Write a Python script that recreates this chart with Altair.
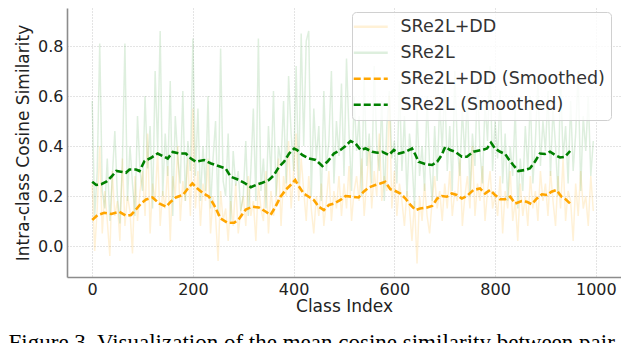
import altair as alt
import pandas as pd

# ---------------- data ----------------
raw_idx = list(range(0, 1000, 5))

# SRe2L raw per-class similarity (sampled every 5 classes)
sre2l_raw = [
    0.58, 0.12, 0.30, 0.81, 0.22, 0.15, 0.35, 0.10, 0.28, 0.46, 0.20, 0.09, 0.33, 0.81, 0.18, 0.40, 0.25, 0.12, 0.52, 0.30,
    0.22, 0.60, 0.31, 0.48, 0.15, 0.70, 0.38, 0.86, 0.20, 0.45, 0.28, 0.66, 0.12, 0.52, 0.35, 0.25, 0.62, 0.18, 0.42, 0.30,
    0.83, 0.28, 0.55, 0.18, 0.40, 0.22, 0.60, 0.15, 0.35, 0.50, 0.12, 0.79, 0.26, 0.20, 0.45, 0.10, 0.38, 0.24, 0.30, 0.14,
    0.20, 0.42, 0.12, 0.30, 0.55, 0.18, 0.83, 0.22, 0.35, 0.15, 0.48, 0.28, 0.62, 0.20, 0.40, 0.33, 0.58, 0.25, 0.68, 0.45,
    0.30, 0.72, 0.25, 0.85, 0.40, 0.82, 0.86, 0.20, 0.55, 0.35, 0.48, 0.18, 0.62, 0.30, 0.42, 0.70, 0.25, 0.50, 0.36, 0.65,
    0.28, 0.75, 0.45, 0.22, 0.60, 0.38, 0.52, 0.20, 0.68, 0.32, 0.45, 0.25, 0.72, 0.40, 0.30, 0.58, 0.18, 0.48, 0.62, 0.35,
    0.42, 0.25, 0.66, 0.30, 0.52, 0.20, 0.45, 0.35, 0.15, 0.55, 0.28, 0.40, 0.22, 0.60, 0.32, 0.18, 0.48, 0.26, 0.58, 0.38,
    0.65, 0.30, 0.48, 0.22, 0.70, 0.40, 0.28, 0.55, 0.35, 0.62, 0.20, 0.45, 0.32, 0.68, 0.38, 0.25, 0.58, 0.42, 0.72, 0.30,
    0.50, 0.35, 0.62, 0.25, 0.45, 0.18, 0.40, 0.28, 0.55, 0.15, 0.35, 0.22, 0.48, 0.30, 0.60, 0.25, 0.42, 0.66, 0.32, 0.50,
    0.38, 0.62, 0.28, 0.55, 0.40, 0.20, 0.68, 0.35, 0.48, 0.25, 0.58, 0.30, 0.45, 0.70, 0.22, 0.52, 0.38, 0.60, 0.28, 0.42,
]

# SRe2L+DD raw per-class similarity (sampled every 5 classes)
dd_raw = [
    0.25, -0.02, 0.15, 0.40, 0.05, 0.22, 0.10, -0.04, 0.30, 0.12, 0.18, 0.02, 0.35, 0.08, 0.20, 0.14, -0.03, 0.28, 0.10, 0.22,
    0.30, 0.12, 0.45, 0.05, 0.25, 0.18, 0.38, 0.08, 0.22, 0.15, 0.32, 0.02, 0.28, 0.20, 0.40, 0.10, 0.26, 0.18, 0.35, 0.12,
    0.55, 0.15, 0.30, 0.08, 0.25, 0.18, 0.35, 0.05, 0.20, 0.12, -0.06, 0.22, 0.10, 0.15, 0.02, 0.18, 0.08, 0.25, 0.05, 0.14,
    0.20, 0.08, 0.28, 0.12, 0.18, 0.02, 0.25, 0.15, 0.10, 0.30, 0.05, 0.22, 0.12, 0.18, 0.35, 0.08, 0.28, 0.20, 0.42, 0.15,
    0.30, 0.45, 0.18, 0.35, 0.22, 0.10, 0.28, 0.15, 0.05, 0.20, 0.12, 0.25, 0.08, 0.18, 0.30, 0.10, 0.22, 0.15, 0.28, 0.12,
    0.25, 0.15, 0.32, 0.10, 0.22, 0.28, 0.18, 0.35, 0.12, 0.25, 0.40, 0.15, 0.30, 0.20, 0.45, 0.18, 0.28, 0.22, 0.60, 0.15,
    0.30, 0.12, 0.25, 0.18, 0.08, 0.22, 0.15, 0.02, 0.18, -0.07, 0.20, 0.10, 0.25, 0.12, 0.05, 0.18, 0.28, 0.15, 0.22, 0.10,
    0.25, 0.15, 0.30, 0.12, 0.22, 0.18, 0.35, 0.08, 0.20, 0.28, 0.15, 0.40, 0.12, 0.25, 0.18, 0.32, 0.10, 0.22, 0.30, 0.15,
    0.20, 0.12, 0.28, 0.05, 0.22, 0.15, 0.30, 0.10, 0.18, 0.02, 0.25, 0.12, 0.20, 0.08, 0.28, 0.15, 0.22, 0.10, 0.30, 0.18,
    0.25, 0.12, 0.30, 0.18, 0.08, 0.28, 0.15, 0.35, 0.10, 0.22, 0.18, 0.02, 0.25, 0.12, 0.30, 0.15, 0.20, 0.08, 0.28, 0.14,
]

# Smoothed SRe2L
sre2l_sm_idx = [
    0, 8, 18, 28, 38, 48, 57, 67, 74, 87,
    94, 104, 117, 130, 140, 150, 160, 173, 186, 196,
    206, 222, 236, 245, 265, 275, 288, 302, 315, 325,
    338, 351, 361, 371, 381, 391, 401, 407, 417, 430,
    444, 457, 467, 480, 493, 503, 513, 523, 533, 543,
    556, 566, 576, 589, 599, 609, 622, 635, 642, 648,
    661, 675, 685, 694, 701, 711, 721, 734, 744, 757,
    774, 784, 792, 800, 810, 820, 826, 836, 846, 859,
    869, 879, 889, 899, 909, 919, 929, 939, 949,
]
sre2l_sm = [
    0.257, 0.244, 0.247, 0.257, 0.277, 0.300, 0.297, 0.293, 0.306, 0.306,
    0.300, 0.340, 0.353, 0.370, 0.360, 0.350, 0.376, 0.370, 0.370, 0.350,
    0.337, 0.344, 0.330, 0.324, 0.310, 0.277, 0.267, 0.253, 0.235, 0.244,
    0.253, 0.264, 0.284, 0.317, 0.337, 0.370, 0.390, 0.384, 0.364, 0.350,
    0.344, 0.320, 0.337, 0.370, 0.384, 0.400, 0.420, 0.410, 0.384, 0.390,
    0.377, 0.373, 0.377, 0.364, 0.384, 0.370, 0.377, 0.390, 0.364, 0.337,
    0.328, 0.324, 0.337, 0.364, 0.397, 0.384, 0.377, 0.357, 0.357, 0.377,
    0.384, 0.390, 0.413, 0.390, 0.377, 0.368, 0.350, 0.324, 0.300, 0.304,
    0.310, 0.337, 0.370, 0.368, 0.377, 0.364, 0.354, 0.357, 0.380,
]

# Smoothed SRe2L+DD
dd_sm_idx = [
    0, 11, 24, 38, 54, 67, 77, 87, 97, 107,
    120, 133, 147, 156, 166, 180, 190, 199, 209, 219,
    232, 242, 255, 269, 282, 292, 305, 318, 331, 345,
    354, 364, 374, 384, 394, 403, 410, 420, 430, 440,
    450, 460, 470, 480, 493, 503, 516, 529, 539, 549,
    562, 572, 582, 592, 602, 612, 622, 632, 642, 651,
    665, 675, 685, 694, 704, 714, 724, 734, 744, 757,
    770, 780, 790, 800, 810, 820, 830, 840, 853, 863,
    873, 883, 893, 903, 912, 922, 932, 940, 949,
]
dd_sm = [
    0.104, 0.124, 0.133, 0.128, 0.137, 0.121, 0.124, 0.146, 0.170, 0.186,
    0.194, 0.170, 0.157, 0.177, 0.194, 0.204, 0.230, 0.250, 0.230, 0.213,
    0.197, 0.164, 0.110, 0.093, 0.093, 0.110, 0.146, 0.157, 0.154, 0.137,
    0.124, 0.157, 0.197, 0.224, 0.244, 0.264, 0.240, 0.210, 0.197, 0.184,
    0.157, 0.144, 0.164, 0.170, 0.184, 0.200, 0.197, 0.194, 0.217, 0.234,
    0.244, 0.250, 0.257, 0.227, 0.220, 0.210, 0.190, 0.164, 0.144, 0.150,
    0.154, 0.160, 0.190, 0.200, 0.197, 0.210, 0.204, 0.190, 0.200, 0.224,
    0.230, 0.210, 0.224, 0.204, 0.187, 0.187, 0.197, 0.170, 0.180, 0.177,
    0.167, 0.190, 0.207, 0.204, 0.217, 0.224, 0.197, 0.187, 0.170,
]

series_order = ["SRe2L+DD", "SRe2L", "SRe2L+DD (Smoothed)", "SRe2L (Smoothed)"]
series_colors = ["rgba(255,165,0,0.16)", "rgba(0,128,0,0.13)", "#FFA500", "#008000"]
x_ticks = [0, 200, 400, 600, 800, 1000]
y_ticks = [0.0, 0.2, 0.4, 0.6, 0.8]
caption = "Figure 3. Visualization of the mean cosine similarity between pair"

# ---------------- table ----------------
rows = []
for i, v in zip(raw_idx, dd_raw):
    rows.append({"idx": i, "val": v, "series": series_order[0]})
for i, v in zip(raw_idx, sre2l_raw):
    rows.append({"idx": i, "val": v, "series": series_order[1]})
for i, v in zip(dd_sm_idx, dd_sm):
    rows.append({"idx": i, "val": v, "series": series_order[2]})
for i, v in zip(sre2l_sm_idx, sre2l_sm):
    rows.append({"idx": i, "val": v, "series": series_order[3]})
df = pd.DataFrame(rows)

color_scale = alt.Scale(domain=series_order, range=series_colors)
dash_scale = alt.Scale(domain=series_order, range=[[1, 0], [1, 0], [7, 3], [7, 3]])
widths = [1.5, 1.5, 2.6, 2.6]

layers = []
for s, w in zip(series_order, widths):
    layers.append(
        alt.Chart(df).mark_line(strokeWidth=w).encode(
            x=alt.X("idx:Q", title="Class Index",
                    scale=alt.Scale(domain=[-50, 1050], nice=False, zero=False),
                    axis=alt.Axis(values=x_ticks, format="d")),
            y=alt.Y("val:Q", title="Intra-class Cosine Similarity",
                    scale=alt.Scale(domain=[-0.124, 0.952], nice=False, zero=False),
                    axis=alt.Axis(values=y_ticks, format=".1f")),
            color=alt.Color("series:N", scale=color_scale, title=None),
            strokeDash=alt.StrokeDash("series:N", scale=dash_scale, title=None),
        ).transform_filter(alt.datum.series == s)
    )

chart = alt.layer(*layers).properties(
    width=554,
    height=269,
    padding={"left": 0, "top": 0, "right": 0, "bottom": 0},
    title=alt.TitleParams(
        caption, orient="bottom", anchor="start", frame="bounds",
        font="Liberation Serif", fontSize=23, fontWeight="normal",
        color="black", offset=18, dx=-6,
    ),
).configure_view(
    stroke=None
).configure_axis(
    labelFont="DejaVu Sans", labelFontSize=16, labelColor="#222222",
    titleFont="DejaVu Sans", titleFontSize=17, titleFontWeight="normal", titleColor="#222222",
    domainColor="#8c8c8c", domainWidth=1.6,
    ticks=False, labelPadding=4,
    gridColor="#bbbbbb", gridDash=[1, 2], gridWidth=0.8,
).configure_axisX(
    titlePadding=1
).configure_axisY(
    titlePadding=5
).configure_legend(
    orient="none", legendX=285, legendY=4,
    labelFont="DejaVu Sans", labelFontSize=17.5, labelColor="#333333", labelLimit=400,
    symbolType="M-2.43,0H2.43", symbolSize=196, symbolOffset=4, labelOffset=21,
    strokeColor="#d0d0d0", fillColor="rgba(255,255,255,0.8)", cornerRadius=4,
    padding=6, rowPadding=7, symbolStrokeWidth=2.5,
)

chart.save("out.html", embed_options={"renderer": "svg", "actions": False})
